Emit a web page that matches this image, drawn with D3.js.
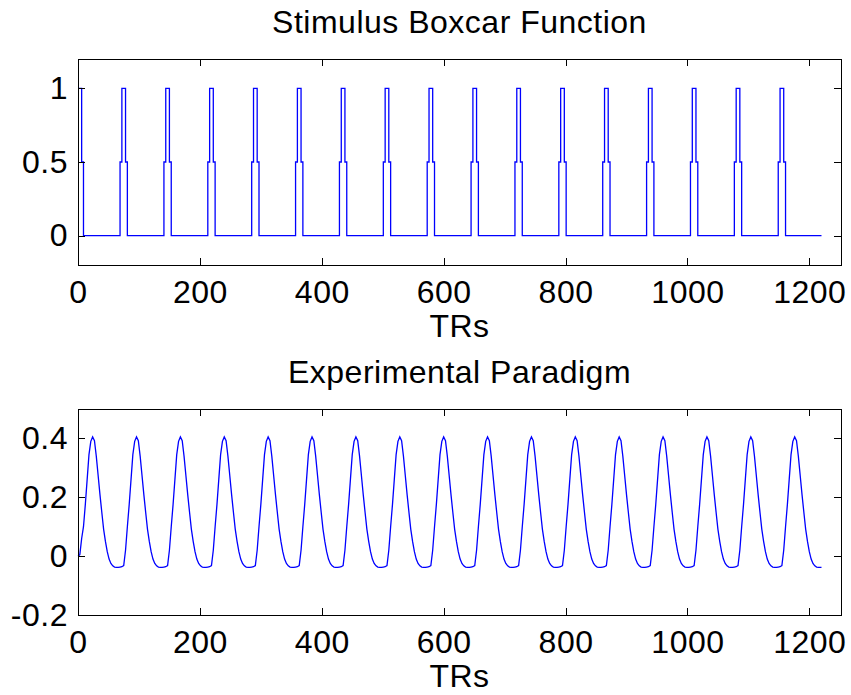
<!DOCTYPE html>
<html>
<head>
<meta charset="utf-8">
<script src="https://cdn.jsdelivr.net/npm/d3@7"></script>
<style>
  body { margin: 0; background: #fff; }
  text { font-family: 'Liberation Sans', Arial, sans-serif; }
</style>
</head>
<body>
<svg id="chart" width="851" height="695"></svg>
<script>
// x axis (TRs)
const xDomain = [0, 1252]
const xTicks = [0, 200, 400, 600, 800, 1000, 1200]
const seriesEnd = 1220

// stimulus boxcar: block onsets and the level changes around each onset
const boxOnsets = [0, 72, 144, 216, 288, 360, 432, 504, 576, 648, 720, 792, 864, 936, 1008, 1080, 1152]
const boxSteps = [[-3, 0.5], [0, 1], [6, 0.5], [9, 0]]
const boxYDomain = [-0.2, 1.2]
const boxYTicks = [0, 0.5, 1]

// convolved response, one value every 3 TRs after each onset
const hrfStep = 3
const hrfCycle = [-0.036, -0.032, 0.02, 0.1, 0.175, 0.26, 0.345, 0.39, 0.405, 0.392, 0.34, 0.275,
  0.21, 0.15, 0.092, 0.05, 0.015, -0.01, -0.025, -0.033, -0.037, -0.038, -0.038, -0.037]
const hrfFirstStart = [0, 0.005, 0.06]
const paraYDomain = [-0.2, 0.5]
const paraYTicks = [-0.2, 0, 0.2, 0.4]

var svg = d3.select('#chart')
var margin = { left: 78, right: 10 }
var width = 851 - margin.left - margin.right
var plotH = 206
var fontSize = 32

// build the series from the arrays above
var boxData = []
boxOnsets.forEach(function (on) {
  boxSteps.forEach(function (s) {
    var t = on + s[0]
    if (t >= 0) boxData.push([t, s[1]])
  })
})
boxData.push([seriesEnd, 0])

var paraData = []
boxOnsets.forEach(function (on, i) {
  hrfCycle.forEach(function (v, k) {
    var t = on + k * hrfStep
    if (t > seriesEnd) return
    if (i === 0 && k < hrfFirstStart.length) v = hrfFirstStart[k]
    paraData.push([t, v])
  })
})
paraData.push([seriesEnd, paraData[paraData.length - 1][1]])

function panel (top, title, yDomain, yTicks, data, curve) {
  var x = d3.scaleLinear().domain(xDomain).range([0, width])
  var y = d3.scaleLinear().domain(yDomain).range([plotH, 0])
  var plain = function (d) { return String(d) }

  var g = svg.append('g')
    .attr('transform', 'translate(' + margin.left + ',' + top + ')')

  g.append('path')
    .datum(data)
    .attr('fill', 'none')
    .attr('stroke', '#0000ff')
    .attr('stroke-width', 1.3)
    .attr('d', d3.line()
      .x(function (d) { return x(d[0]) })
      .y(function (d) { return y(d[1]) })
      .curve(curve))

  var bottom = g.append('g')
    .attr('transform', 'translate(0,' + plotH + ')')
    .call(d3.axisBottom(x).tickValues(xTicks).tickSizeInner(-7).tickSizeOuter(0).tickPadding(15)
      .tickFormat(plain))
  g.append('g')
    .call(d3.axisTop(x).tickValues(xTicks).tickSizeInner(-7).tickSizeOuter(0).tickFormat(''))
  var left = g.append('g')
    .call(d3.axisLeft(y).tickValues(yTicks).tickSizeInner(-7).tickSizeOuter(0).tickPadding(10)
      .tickFormat(plain))
  g.append('g')
    .attr('transform', 'translate(' + width + ',0)')
    .call(d3.axisRight(y).tickValues(yTicks).tickSizeInner(-7).tickSizeOuter(0).tickFormat(''))

  g.selectAll('.domain').remove()
  g.selectAll('.tick line').attr('stroke', '#000').attr('shape-rendering', 'crispEdges')
  ;[bottom, left].forEach(function (a) {
    a.attr('font-size', null).attr('font-family', null)
    a.selectAll('text')
      .attr('fill', '#000')
      .style('font-size', fontSize + 'px')
      .style('letter-spacing', '0.5px')
  })

  g.append('rect')
    .attr('width', width)
    .attr('height', plotH)
    .attr('fill', 'none')
    .attr('stroke', '#000')
    .attr('shape-rendering', 'crispEdges')

  g.append('text')
    .attr('x', width / 2)
    .attr('y', -26)
    .attr('text-anchor', 'middle')
    .style('font-size', fontSize + 'px')
    .style('letter-spacing', '0.5px')
    .text(title)

  g.append('text')
    .attr('x', width / 2)
    .attr('y', plotH + 72)
    .attr('text-anchor', 'middle')
    .style('font-size', fontSize + 'px')
    .style('letter-spacing', '0.5px')
    .text('TRs')
}

panel(59, 'Stimulus Boxcar Function', boxYDomain, boxYTicks, boxData, d3.curveStepAfter)
panel(409, 'Experimental Paradigm', paraYDomain, paraYTicks, paraData, d3.curveLinear)
</script>
</body>
</html>
